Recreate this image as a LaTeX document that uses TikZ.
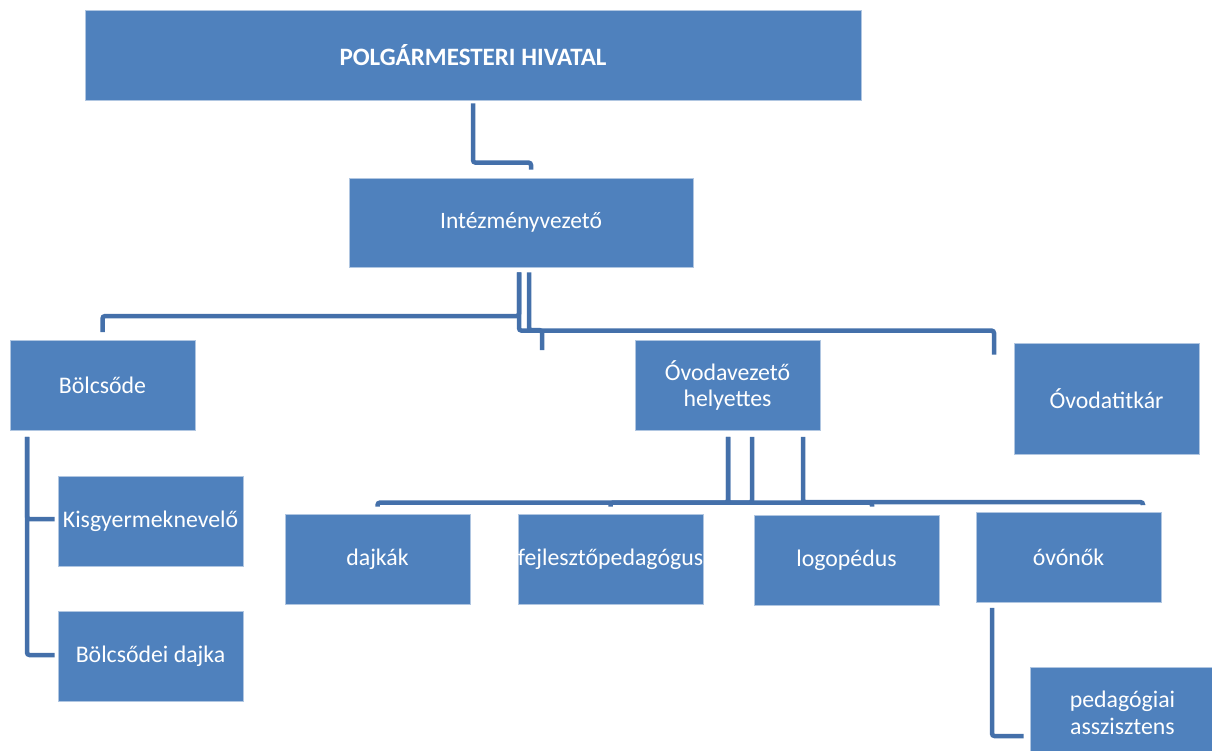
\documentclass[tikz,border=0pt]{standalone}
\usepackage{fontspec}
\setmainfont{Carlito}
\usetikzlibrary{calc}
\definecolor{boxblue}{HTML}{4F81BD}
\definecolor{lineblue}{HTML}{4470AA}
\tikzset{
  orgbox/.style={rectangle, fill=boxblue, draw=white!55!boxblue, line width=0.8pt,
    text=white, align=center, inner sep=0pt, minimum width=185pt, minimum height=90pt,
    font=\fontsize{23.8}{26.5}\selectfont},
  conn/.style={draw=lineblue, line width=4.5pt, rounded corners=2.5pt}
}
\begin{document}
\begin{tikzpicture}[x=1pt,y=-1pt]
\path[use as bounding box] (0,0) rectangle (1212,751);
\clip (0,0) rectangle (1212,751);
% nodes
\node[orgbox, minimum width=776pt, minimum height=90pt, font=\fontsize{25}{29}\selectfont\bfseries] (top) at (473,55) {POLGÁRMESTERI HIVATAL};
\node[orgbox, minimum width=344pt, minimum height=89pt, font=\fontsize{23.5}{26}\selectfont] (intez) at (521,222.5) {Intézményvezető};
\node[orgbox] (bolcs) at (102.5,385.5) {Bölcsőde};
\node[orgbox] (ovh) at (727.5,385.5) {Óvodavezető\\helyettes};
\node[orgbox, minimum height=111pt] (titk) at (1106.5,398.5) {Óvodatitkár};
\node[orgbox] (kisgy) at (150.5,521.5) {Kisgyermeknevelő};
\node[orgbox] (bdajka) at (150.5,656) {Bölcsődei dajka};
\node[orgbox] (dajkak) at (377.5,559) {dajkák};
\node[orgbox] (fejl) at (610.5,559) {fejlesztőpedagógus};
\node[orgbox] (logo) at (846.5,560) {logopédus};
\node[orgbox] (ovonok) at (1068.5,557.5) {óvónők};
\node[orgbox, font=\fontsize{23.8}{27}\selectfont] (peda) at (1122.5,712.5) {pedagógiai\\asszisztens};
% connectors
\draw[conn] ($(top.south)+(0,3)$) |- ($(intez.north)+(10,-15)$) -- ($(intez.north)+(10,-8)$);
\draw[conn] ($(intez.south)+(-2,5)$) |- ($(bolcs.north)+(0,-24)$) -- ($(bolcs.north)+(0,-8)$);
\draw[conn] ($(intez.south)+(-2,5)$) |- ($(titk.north)+(-112.5,-12)$) -- ($(titk.north)+(-112.5,12)$);
\draw[conn] ($(intez.south)+(8,5)$) |- ($(ovh.north)+(-185.5,-10)$) -- ($(ovh.north)+(-185.5,10)$);
\draw[conn] ($(ovh.south)+(0.5,6)$) |- ($(dajkak.north)+(0,-11)$) -- ($(dajkak.north)+(0,-7)$);
\draw[conn] ($(ovh.south)+(24.5,6)$) |- ($(fejl.north)+(0,-11)$) -- ($(fejl.north)+(0,-7)$);
\draw[conn] ($(ovh.south)+(0.5,6)$) |- ($(logo.north)+(25.5,-12)$) -- ($(logo.north)+(25.5,-8)$);
\draw[conn] ($(ovh.south)+(75.5,6)$) |- ($(ovonok.north)+(74.5,-10)$) -- ($(ovonok.north)+(74.5,-7)$);
\draw[conn] ($(bolcs.south)+(-75.5,6)$) |- ($(kisgy.west)+(-3,-2.5)$);
\draw[conn] ($(bolcs.south)+(-75.5,6)$) |- ($(bdajka.west)+(-3,-1)$);
\draw[conn] ($(ovonok.south)+(-76.5,5)$) |- ($(peda.west)+(-6,23.5)$);
\end{tikzpicture}
\end{document}
